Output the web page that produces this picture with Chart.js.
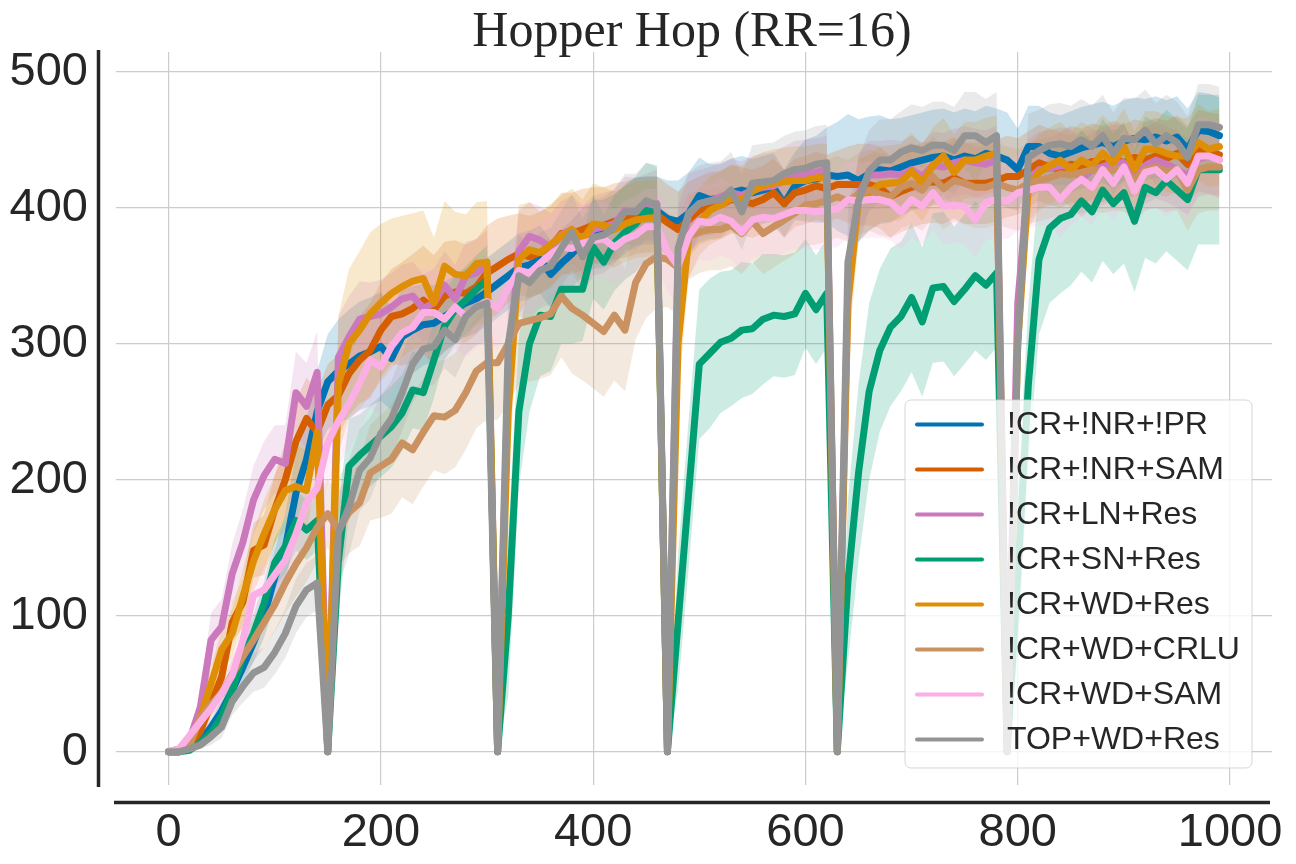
<!DOCTYPE html>
<html>
<head>
<meta charset="utf-8">
<script src="https://cdn.jsdelivr.net/npm/chart.js@4.4.1/dist/chart.umd.min.js"></script>
<style>
  html, body { margin: 0; padding: 0; background: #fff; }
  #wrap { width: 1296px; height: 864px; }
</style>
</head>
<body>
<div id="wrap"><canvas id="grafico"></canvas></div>
<script>
// training steps (x) and axis ticks
var passos = [0,10,20,30,40,50,60,70,80,90,100,110,120,130,140,150,160,170,180,190,
  200,210,220,230,240,250,260,270,280,290,300,310,320,330,340,350,360,370,380,390,
  400,410,420,430,440,450,460,470,480,490,500,510,520,530,540,550,560,570,580,590,
  600,610,620,630,640,650,660,670,680,690,700,710,720,730,740,750,760,770,780,790,
  800,810,820,830,840,850,860,870,880,890,900,910,920,930,940,950,960,970,980,990];
var ticksX = [0, 200, 400, 600, 800, 1000];
var ticksY = [0, 100, 200, 300, 400, 500];

var nomes = ['!CR+!NR+!PR', '!CR+!NR+SAM', '!CR+LN+Res', '!CR+SN+Res',
  '!CR+WD+Res', '!CR+WD+CRLU', '!CR+WD+SAM', 'TOP+WD+Res'];

// mean returns
var mediaNoNrNoPr = [0,0,3,8,18,30,45,62,80,100,128,150,190,215,250,272,280,285,291,294,
  298,289,305,310,314,315,320,325,330,333,338,344,350,356,358,362,351,359,366,375,
  380,381,385,391,397,398,398,392,390,396,409,406,407,411,413,411,413,415,403,416,
  420,421,424,423,424,420,425,428,427,430,433,435,437,438,435,438,436,440,438,435,
  428,445,445,440,438,441,444,446,448,445,449,451,450,452,449,452,443,457,456,453];
var mediaNoNrSam = [0,0,5,15,35,55,95,110,148,152,178,200,228,245,235,255,262,278,288,295,
  310,320,322,326,332,325,335,338,337,342,352,357,362,366,364,367,371,381,381,384,
  387,387,390,391,394,395,395,389,384,391,398,401,402,406,405,403,406,411,403,411,
  413,416,414,417,417,417,417,415,408,412,415,418,419,418,422,418,418,418,420,423,
  423,428,433,430,428,432,430,434,432,436,433,437,435,438,436,440,432,442,440,439];
var mediaLnRes = [0,2,9,33,82,92,131,154,185,203,215,212,264,254,279,0,290,305,318,320,
  322,327,333,335,326,330,343,333,350,352,358,0,280,368,379,376,371,380,384,376,
  384,386,388,398,397,400,403,0,360,395,403,405,408,411,409,413,415,416,420,424,
  425,426,428,0,340,410,424,424,425,424,428,423,431,430,433,435,433,432,435,0,
  330,420,428,429,431,430,421,428,430,433,433,421,431,435,432,428,423,436,438,435];
var mediaSnRes = [0,0,1,7,14,26,45,70,87,109,139,151,170,163,170,0,140,210,218,225,
  232,239,249,266,264,288,313,325,332,340,347,0,100,250,300,321,320,340,340,340,
  371,360,374,382,388,398,396,0,95,190,285,293,301,304,310,311,318,321,320,322,
  337,325,337,0,125,205,265,295,312,320,334,316,341,342,331,340,350,343,352,0,
  130,270,362,385,392,395,405,397,413,403,411,390,415,411,420,413,406,428,428,428];
var mediaWdRes = [0,0,5,25,50,75,87,114,140,160,178,192,195,192,235,0,270,300,310,322,
  330,337,342,346,348,330,357,351,350,359,360,0,250,362,369,367,373,379,384,376,
  388,387,384,388,391,392,393,0,300,378,390,398,402,407,406,412,416,418,419,420,
  420,422,422,0,330,406,411,417,418,419,427,418,431,438,426,435,435,438,440,0,
  300,415,426,431,435,428,435,431,440,433,445,428,443,443,440,438,438,448,443,445];
var mediaWdCrlu = [0,0,6,25,35,43,57,70,82,95,108,124,138,150,165,175,163,176,183,205,
  210,215,227,222,235,247,246,251,264,280,286,286,300,315,317,319,322,335,326,321,
  315,309,321,310,345,359,364,362,356,379,382,384,384,387,381,390,381,386,391,396,
  402,403,405,408,405,410,413,410,408,415,418,413,423,414,420,418,415,415,418,415,
  413,418,420,422,425,424,426,428,426,428,427,420,428,430,427,428,413,428,430,430];
var mediaWdSam = [0,2,12,22,32,43,56,82,115,119,130,141,160,183,194,227,243,256,271,288,
  283,298,308,312,323,323,318,327,320,327,331,326,341,354,352,359,366,371,370,374,
  376,377,371,377,380,386,386,368,357,379,390,389,393,390,382,391,393,392,395,398,
  398,397,398,399,406,405,406,406,404,397,406,401,411,401,402,401,391,404,406,405,
  411,413,415,415,406,415,421,415,428,418,430,412,426,428,421,428,418,438,438,435];
var mediaTopWdRes = [0,0,2,5,11,18,37,48,58,62,73,87,107,119,124,0,161,180,207,216,
  234,245,264,285,296,298,310,303,320,327,330,0,300,350,345,354,357,370,382,364,
  378,380,386,397,397,405,402,0,370,396,403,405,406,413,397,418,419,420,425,428,
  429,432,433,0,360,405,427,435,435,441,444,442,446,446,442,453,453,448,453,0,
  300,437,442,446,447,445,450,445,453,440,451,450,457,447,453,448,437,461,461,459];

// half width of the shaded band
var faixaNoNrNoPr = [0,0,2,4,6,8,10,12,14,16,20,25,30,30,30,35,38,40,40,40,
  40,38,35,32,30,28,26,25,25,25,25,25,25,25,25,25,25,25,25,25,
  25,25,25,25,25,25,25,28,30,30,28,26,25,25,25,25,25,25,25,25,
  30,32,35,40,45,45,42,40,38,36,35,35,35,35,35,35,35,35,35,35,
  30,30,30,30,30,30,30,30,30,30,30,30,30,30,30,30,30,28,28,28];
var faixaNoNrSam = [0,0,3,6,10,12,15,18,20,22,25,28,30,30,30,30,30,30,32,35,
  35,35,38,40,40,40,40,38,36,35,35,35,32,30,30,30,30,30,30,30,
  28,28,28,28,28,28,28,28,28,28,25,25,25,25,25,25,25,25,25,25,
  25,25,25,25,28,30,30,30,30,30,30,30,30,30,30,30,30,30,30,30,
  28,28,28,28,28,28,28,28,28,28,28,28,28,28,28,28,28,30,30,30];
var faixaLnRes = [0,1,4,10,20,20,22,24,25,25,25,28,30,32,30,0,30,30,28,25,
  25,25,25,25,25,25,25,25,25,25,25,0,40,30,25,25,25,25,25,25,
  25,25,25,25,25,25,25,0,40,30,25,25,25,25,25,25,25,25,25,25,
  25,25,25,0,40,30,25,25,25,25,25,25,25,25,25,25,25,25,25,0,
  40,30,28,28,28,28,28,28,28,28,28,28,28,28,28,28,28,28,28,28];
var faixaSnRes = [0,0,1,3,6,8,10,12,14,16,18,20,22,22,22,0,40,35,30,30,
  30,30,28,28,28,28,25,25,25,25,25,0,60,55,50,45,40,40,40,38,
  38,35,35,35,35,35,35,0,50,55,55,55,52,50,50,48,48,45,45,45,
  40,40,40,0,60,65,65,60,58,55,55,55,55,55,55,55,55,55,55,0,
  60,60,55,55,55,52,52,52,52,52,52,52,52,52,52,52,52,55,55,55];
var faixaWdRes = [0,0,3,8,12,15,18,20,22,25,25,28,30,30,30,0,50,55,58,60,
  58,55,52,50,50,48,48,46,45,45,45,0,50,40,35,30,30,30,30,30,
  30,28,28,28,28,28,28,0,40,30,25,25,25,25,25,25,25,25,25,25,
  25,25,25,0,40,30,28,28,28,28,28,28,28,28,28,28,28,28,28,0,
  40,30,28,28,28,28,28,28,28,28,28,28,28,28,28,28,28,28,28,28];
var faixaWdCrlu = [0,0,2,6,8,10,12,14,16,18,20,22,24,25,25,25,28,30,32,35,
  38,40,40,40,40,40,42,42,42,42,42,42,45,45,45,45,45,45,48,48,
  48,48,48,45,42,40,38,35,35,32,30,30,30,30,30,30,30,30,30,30,
  30,30,30,30,30,30,30,30,30,30,30,30,30,30,30,30,30,30,30,30,
  30,30,30,30,30,30,30,30,30,30,30,30,30,30,30,30,30,32,32,32];
var faixaWdSam = [0,1,4,6,8,10,12,14,16,18,20,22,24,26,28,30,32,34,35,35,
  35,35,35,35,33,32,30,30,30,30,30,30,30,30,30,30,30,30,30,30,
  28,28,28,28,28,28,28,30,30,30,28,28,28,28,28,28,28,28,28,28,
  28,28,28,28,28,28,28,28,28,28,28,28,28,28,28,28,28,28,28,28,
  28,28,28,28,28,28,28,28,28,28,28,28,28,28,28,28,28,28,28,28];
var faixaTopWdRes = [0,0,1,3,6,8,10,12,14,15,16,18,20,20,20,0,40,35,30,30,
  28,28,28,28,28,28,28,28,28,28,28,0,40,30,28,28,28,28,28,28,
  28,28,28,28,28,28,28,0,40,30,28,28,28,28,28,28,28,28,28,28,
  28,28,28,0,40,32,30,30,30,30,32,32,32,32,32,32,32,32,32,0,
  40,32,30,30,30,30,30,30,30,30,30,30,30,30,30,30,30,30,30,30];

var medias = [mediaNoNrNoPr, mediaNoNrSam, mediaLnRes, mediaSnRes, mediaWdRes, mediaWdCrlu, mediaWdSam, mediaTopWdRes];
var faixas = [faixaNoNrNoPr, faixaNoNrSam, faixaLnRes, faixaSnRes, faixaWdRes, faixaWdCrlu, faixaWdSam, faixaTopWdRes];
var cores = ['1,115,178', '213,94,0', '204,120,188', '2,158,115', '222,143,5', '202,145,97', '251,175,228', '148,148,148'];

var corTexto = '#262626';

function pontos(valores) {
  return passos.map(function (x, i) { return { x: x, y: valores[i] }; });
}

var datasets = [];
// bands first (upper filled down to lower)
for (var i = 0; i < medias.length; i++) {
  var ordem = (medias.length - i) * 10;
  datasets.push({
    label: 'faixa', data: pontos(medias[i].map(function (v, k) { return v + faixas[i][k]; })),
    borderWidth: 0, borderColor: 'transparent', pointRadius: 0, fill: '+1',
    backgroundColor: 'rgba(' + cores[i] + ',0.2)', order: ordem + 1
  });
  datasets.push({
    label: 'faixa', data: pontos(medias[i].map(function (v, k) { return v - faixas[i][k]; })),
    borderWidth: 0, borderColor: 'transparent', pointRadius: 0, fill: false,
    order: ordem + 2
  });
}
for (var j = 0; j < medias.length; j++) {
  datasets.push({
    label: nomes[j], data: pontos(medias[j]),
    borderColor: 'rgb(' + cores[j] + ')', borderWidth: 7,
    borderJoinStyle: 'round', borderCapStyle: 'round',
    pointRadius: 0, fill: false, tension: 0,
    order: (medias.length - j) * 10
  });
}

// title, offset spines and legend drawn by hand
var desenhos = {
  id: 'desenhos',
  afterDraw: function (chart) {
    var ctx = chart.ctx;
    var area = chart.chartArea;
    ctx.save();

    ctx.fillStyle = corTexto;
    ctx.font = '50px "Liberation Serif", "Times New Roman", serif';
    ctx.textAlign = 'center';
    ctx.textBaseline = 'alphabetic';
    ctx.fillText('Hopper Hop (RR=16)', (area.left + area.right) / 2 - 2, 46);

    ctx.strokeStyle = corTexto;
    ctx.lineWidth = 3.5;
    ctx.lineCap = 'butt';
    ctx.beginPath();
    ctx.moveTo(98.5, area.top - 2);
    ctx.lineTo(98.5, area.bottom + 2);
    ctx.moveTo(area.left - 2, 802.5);
    ctx.lineTo(area.right - 2, 802.5);
    ctx.stroke();

    // legend box
    var bx = 905, by = 400, bw = 347, bh = 368, r = 6;
    ctx.beginPath();
    ctx.moveTo(bx + r, by);
    ctx.arcTo(bx + bw, by, bx + bw, by + bh, r);
    ctx.arcTo(bx + bw, by + bh, bx, by + bh, r);
    ctx.arcTo(bx, by + bh, bx, by, r);
    ctx.arcTo(bx, by, bx + bw, by, r);
    ctx.closePath();
    ctx.fillStyle = 'rgba(255,255,255,0.8)';
    ctx.fill();
    ctx.strokeStyle = 'rgba(204,204,204,0.8)';
    ctx.lineWidth = 1;
    ctx.stroke();

    ctx.font = '32px "Liberation Sans", Arial, sans-serif';
    ctx.textAlign = 'left';
    ctx.textBaseline = 'middle';
    ctx.lineCap = 'round';
    for (var k = 0; k < nomes.length; k++) {
      var yy = 424.5 + k * 45;
      ctx.strokeStyle = 'rgb(' + cores[k] + ')';
      ctx.lineWidth = 4;
      ctx.beginPath();
      ctx.moveTo(917, yy);
      ctx.lineTo(982, yy);
      ctx.stroke();
      ctx.fillStyle = corTexto;
      ctx.fillText(nomes[k], 1007, yy + 1);
    }
    ctx.restore();
  }
};

var fonteTicks = { family: '"Liberation Sans", Arial, sans-serif', size: 47 };

new Chart(document.getElementById('grafico'), {
  type: 'line',
  data: { datasets: datasets },
  options: {
    responsive: true,
    maintainAspectRatio: false,
    animation: false,
    layout: { padding: { top: 52, right: 24, left: 0, bottom: 0 } },
    plugins: {
      legend: { display: false },
      title: { display: false },
      tooltip: { enabled: false },
      filler: { drawTime: 'beforeDatasetsDraw' }
    },
    scales: {
      x: {
        type: 'linear', min: -49.5, max: 1039.5,
        afterBuildTicks: function (s) { s.ticks = ticksX.map(function (v) { return { value: v }; }); },
        afterFit: function (s) { s.height = 79; s.paddingLeft = 0; s.paddingRight = 0; },
        grid: { color: '#cccccc', lineWidth: 1.2, drawTicks: false },
        border: { display: false },
        ticks: { font: fonteTicks, color: corTexto, padding: 20, maxRotation: 0,
          callback: function (v) { return String(v); } }
      },
      y: {
        type: 'linear', min: -24.5, max: 514.5,
        afterBuildTicks: function (s) { s.ticks = ticksY.map(function (v) { return { value: v }; }); },
        afterFit: function (s) { s.width = 116; s.paddingTop = 0; s.paddingBottom = 0; },
        grid: { color: '#cccccc', lineWidth: 1.2, drawTicks: false },
        border: { display: false },
        ticks: { font: fonteTicks, color: corTexto, padding: 28,
          callback: function (v) { return String(v); } }
      }
    }
  },
  plugins: [desenhos]
});
</script>
</body>
</html>
